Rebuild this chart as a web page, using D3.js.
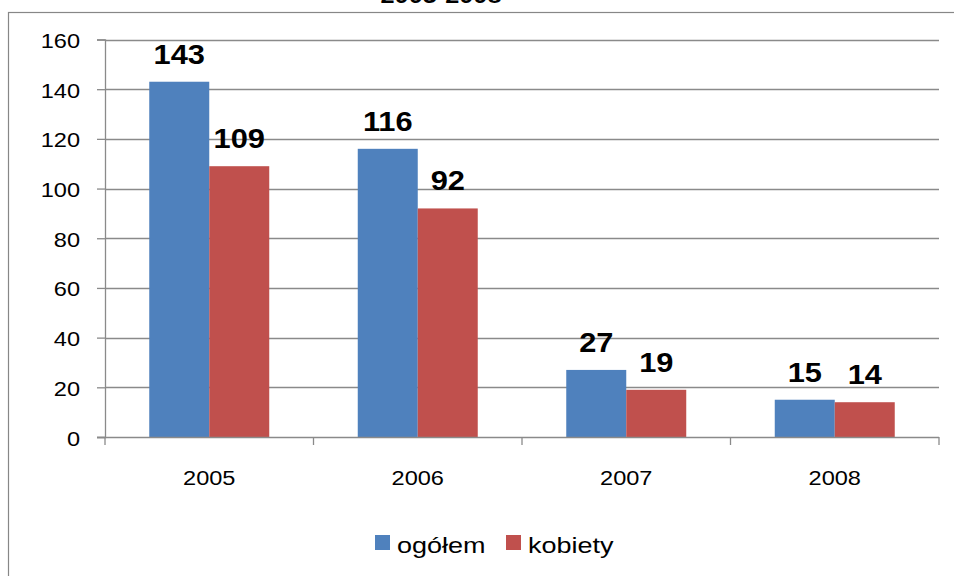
<!DOCTYPE html>
<html>
<head>
<meta charset="utf-8">
<script src="https://cdn.jsdelivr.net/npm/d3@7"></script>
<style>
  html, body { margin: 0; padding: 0; background: #fff; }
  svg { display: block; font-family: "Liberation Sans", Arial, sans-serif; }
</style>
</head>
<body>
<svg id="chart" width="954" height="576"></svg>
<script>
// Chart data
const years = ["2005", "2006", "2007", "2008"];
const seriesNames = ["ogółem", "kobiety"];
const ogolem = [143, 116, 27, 15];
const kobiety = [109, 92, 19, 14];
const yTicks = [0, 20, 40, 60, 80, 100, 120, 140, 160];
const title = "2005-2008";

const colors = ["#4F81BD", "#C0504D"];
const gridColor = "#8a8a8a";
const SX = 1.15; // text is rendered slightly wide

const svg = d3.select("#chart");

// Outer frame (runs off the right and bottom edges)
svg.append("rect")
  .attr("x", 8.5).attr("y", 12.5)
  .attr("width", 960).attr("height", 600)
  .attr("fill", "none").attr("stroke", "#878787").attr("stroke-width", 1.2);

function wideText(g, x, y, s, sx) {
  return g.append("text")
    .attr("transform", `translate(${x},${y}) scale(${sx},1)`)
    .text(s);
}

// Title, sitting at the very top edge
wideText(svg, 441, 3, title, SX)
  .attr("text-anchor", "middle").attr("font-weight", "bold").attr("font-size", 22);

const plot = { left: 105, right: 939, top: 39.5, bottom: 437 };

const x = d3.scaleBand()
  .domain(years)
  .range([plot.left, plot.right])
  .paddingInner(0.4245)
  .paddingOuter(0.4245 / 2);

const xSub = d3.scaleBand()
  .domain(seriesNames)
  .range([0, x.bandwidth()])
  .padding(0);

const y = d3.scaleLinear()
  .domain([0, 160])
  .range([plot.bottom, plot.top]);

// Horizontal gridlines
svg.append("g")
  .selectAll("line")
  .data(yTicks.filter(t => t > 0))
  .join("line")
  .attr("x1", plot.left).attr("x2", plot.right)
  .attr("y1", d => Math.round(y(d)) + 0.5).attr("y2", d => Math.round(y(d)) + 0.5)
  .attr("stroke", gridColor).attr("stroke-width", 1.3);

// Bars
const series = [ogolem, kobiety];
const barG = svg.append("g");
series.forEach((vals, si) => {
  barG.selectAll(`rect.s${si}`)
    .data(vals)
    .join("rect")
    .attr("class", `s${si}`)
    .attr("x", (d, i) => x(years[i]) + xSub(seriesNames[si]))
    .attr("y", d => y(d))
    .attr("width", xSub.bandwidth())
    .attr("height", d => y(0) - y(d))
    .attr("fill", colors[si]);
});

// Y axis
const yAxis = d3.axisLeft(y).tickValues(yTicks).tickSize(8).tickPadding(10);
const yg = svg.append("g")
  .attr("transform", `translate(${plot.left},0)`)
  .call(yAxis);
yg.select(".domain").attr("stroke", gridColor).attr("stroke-width", 1.3);
yg.selectAll(".tick line").attr("stroke", gridColor).attr("stroke-width", 1.3);
yg.selectAll(".tick text").remove();
yg.selectAll(".tick").each(function(d) {
  wideText(d3.select(this), -25, 8, d, SX)
    .attr("text-anchor", "end").attr("font-size", 20.5).attr("fill", "#000");
});

// X axis with ticks at category boundaries
const xg = svg.append("g");
xg.append("line")
  .attr("x1", plot.left - 8).attr("x2", plot.right)
  .attr("y1", plot.bottom + 0.5).attr("y2", plot.bottom + 0.5)
  .attr("stroke", gridColor).attr("stroke-width", 1.3);
const step = x.step();
xg.selectAll("line.bt")
  .data(d3.range(years.length + 1))
  .join("line")
  .attr("class", "bt")
  .attr("x1", i => plot.left + i * step).attr("x2", i => plot.left + i * step)
  .attr("y1", plot.bottom).attr("y2", plot.bottom + 8)
  .attr("stroke", gridColor).attr("stroke-width", 1.3);
years.forEach(yr => {
  wideText(xg, x(yr) + x.bandwidth() / 2, 485, yr, SX)
    .attr("text-anchor", "middle").attr("font-size", 20.5);
});

// Value labels above bars
series.forEach((vals, si) => {
  vals.forEach((v, i) => {
    wideText(svg, x(years[i]) + xSub(seriesNames[si]) + xSub.bandwidth() / 2, y(v) - 18, v, 1.1)
      .attr("text-anchor", "middle").attr("font-weight", "bold").attr("font-size", 28);
  });
});

// Legend
const legend = [
  { name: "ogółem", color: colors[0], x: 375 },
  { name: "kobiety", color: colors[1], x: 506 }
];
legend.forEach(l => {
  svg.append("rect")
    .attr("x", l.x).attr("y", 535).attr("width", 15).attr("height", 15)
    .attr("fill", l.color);
  wideText(svg, l.x + 22, 553, l.name, 1.2)
    .attr("font-size", 22.5);
});
</script>
</body>
</html>
